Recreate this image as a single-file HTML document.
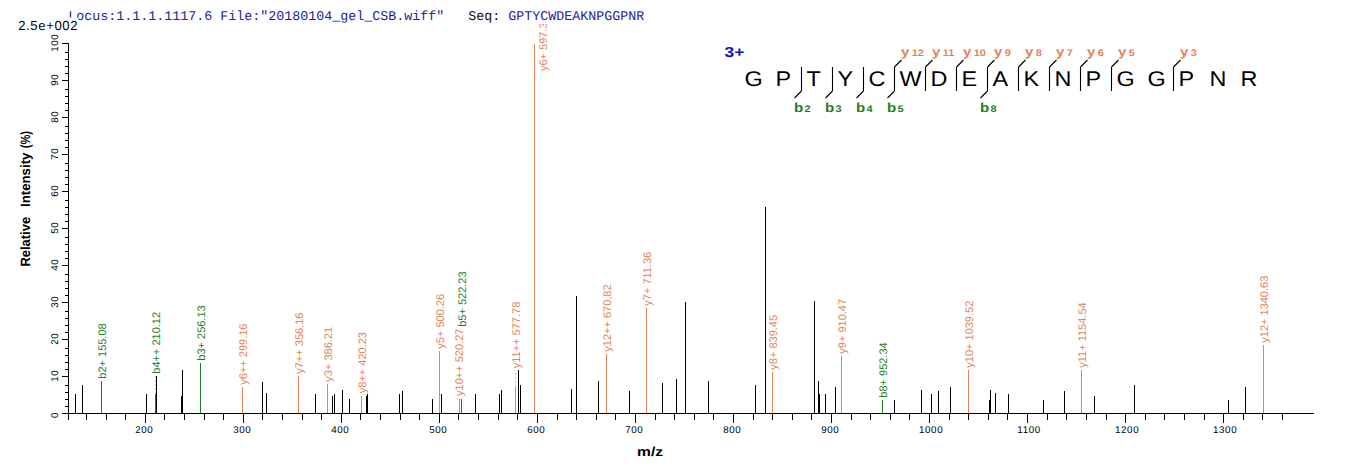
<!DOCTYPE html>
<html><head><meta charset="utf-8"><style>
html,body{margin:0;padding:0;background:#fff;}
svg{display:block;}
text{font-family:"Liberation Sans",sans-serif;text-rendering:geometricPrecision;}
.tk{font-size:9.8px;letter-spacing:0.6px;fill:#000;text-rendering:geometricPrecision;}
.pl{font-size:11px;}
.aa{font-size:21.3px;fill:#000;}
.ion{font-size:13px;font-weight:bold;}
.sub{font-size:9.5px;}
.chg{font-size:14.5px;font-weight:bold;fill:#1010cc;}
.hdr{font-family:"Liberation Mono",monospace;font-size:13.33px;stroke-width:0px;}
.scl{font-size:13.1px;letter-spacing:0.62px;fill:#000;}
.ttl2{font-size:13px;font-weight:bold;fill:#000;}
.ttl{font-size:13.5px;font-weight:bold;fill:#000;}
</style></head><body>
<svg width="1362" height="473" viewBox="0 0 1362 473">
<rect width="1362" height="473" fill="#fff"/>
<defs><clipPath id="clipTop"><rect x="0" y="24" width="1362" height="473"/></clipPath></defs>
<rect x="68" y="43" width="1" height="377" fill="#000"/>
<rect x="62" y="413" width="1252" height="1" fill="#000"/>
<rect x="62" y="413" width="6" height="1" fill="#000"/>
<rect x="65" y="406" width="3" height="1" fill="#000"/>
<rect x="65" y="399" width="3" height="1" fill="#000"/>
<rect x="65" y="392" width="3" height="1" fill="#000"/>
<rect x="65" y="385" width="3" height="1" fill="#000"/>
<rect x="62" y="376" width="6" height="1" fill="#000"/>
<rect x="65" y="369" width="3" height="1" fill="#000"/>
<rect x="65" y="362" width="3" height="1" fill="#000"/>
<rect x="65" y="355" width="3" height="1" fill="#000"/>
<rect x="65" y="348" width="3" height="1" fill="#000"/>
<rect x="62" y="339" width="6" height="1" fill="#000"/>
<rect x="65" y="332" width="3" height="1" fill="#000"/>
<rect x="65" y="325" width="3" height="1" fill="#000"/>
<rect x="65" y="318" width="3" height="1" fill="#000"/>
<rect x="65" y="311" width="3" height="1" fill="#000"/>
<rect x="62" y="302" width="6" height="1" fill="#000"/>
<rect x="65" y="295" width="3" height="1" fill="#000"/>
<rect x="65" y="288" width="3" height="1" fill="#000"/>
<rect x="65" y="281" width="3" height="1" fill="#000"/>
<rect x="65" y="274" width="3" height="1" fill="#000"/>
<rect x="62" y="265" width="6" height="1" fill="#000"/>
<rect x="65" y="258" width="3" height="1" fill="#000"/>
<rect x="65" y="251" width="3" height="1" fill="#000"/>
<rect x="65" y="244" width="3" height="1" fill="#000"/>
<rect x="65" y="237" width="3" height="1" fill="#000"/>
<rect x="62" y="228" width="6" height="1" fill="#000"/>
<rect x="65" y="221" width="3" height="1" fill="#000"/>
<rect x="65" y="214" width="3" height="1" fill="#000"/>
<rect x="65" y="207" width="3" height="1" fill="#000"/>
<rect x="65" y="200" width="3" height="1" fill="#000"/>
<rect x="62" y="191" width="6" height="1" fill="#000"/>
<rect x="65" y="184" width="3" height="1" fill="#000"/>
<rect x="65" y="177" width="3" height="1" fill="#000"/>
<rect x="65" y="170" width="3" height="1" fill="#000"/>
<rect x="65" y="163" width="3" height="1" fill="#000"/>
<rect x="62" y="154" width="6" height="1" fill="#000"/>
<rect x="65" y="147" width="3" height="1" fill="#000"/>
<rect x="65" y="140" width="3" height="1" fill="#000"/>
<rect x="65" y="133" width="3" height="1" fill="#000"/>
<rect x="65" y="126" width="3" height="1" fill="#000"/>
<rect x="62" y="117" width="6" height="1" fill="#000"/>
<rect x="65" y="110" width="3" height="1" fill="#000"/>
<rect x="65" y="103" width="3" height="1" fill="#000"/>
<rect x="65" y="96" width="3" height="1" fill="#000"/>
<rect x="65" y="89" width="3" height="1" fill="#000"/>
<rect x="62" y="80" width="6" height="1" fill="#000"/>
<rect x="65" y="73" width="3" height="1" fill="#000"/>
<rect x="65" y="66" width="3" height="1" fill="#000"/>
<rect x="65" y="59" width="3" height="1" fill="#000"/>
<rect x="65" y="52" width="3" height="1" fill="#000"/>
<rect x="62" y="43" width="6" height="1" fill="#000"/>
<text class="tk" transform="translate(57.6,414.9) rotate(-90)" text-anchor="middle">0</text>
<text class="tk" transform="translate(57.6,375.7) rotate(-90)" text-anchor="middle">10</text>
<text class="tk" transform="translate(57.6,338.7) rotate(-90)" text-anchor="middle">20</text>
<text class="tk" transform="translate(57.6,301.7) rotate(-90)" text-anchor="middle">30</text>
<text class="tk" transform="translate(57.6,264.7) rotate(-90)" text-anchor="middle">40</text>
<text class="tk" transform="translate(57.6,227.7) rotate(-90)" text-anchor="middle">50</text>
<text class="tk" transform="translate(57.6,190.7) rotate(-90)" text-anchor="middle">60</text>
<text class="tk" transform="translate(57.6,153.7) rotate(-90)" text-anchor="middle">70</text>
<text class="tk" transform="translate(57.6,116.7) rotate(-90)" text-anchor="middle">80</text>
<text class="tk" transform="translate(57.6,79.7) rotate(-90)" text-anchor="middle">90</text>
<text class="tk" transform="translate(57.6,42.7) rotate(-90)" text-anchor="middle">100</text>
<rect x="86" y="414" width="1" height="6" fill="#000"/>
<rect x="106" y="414" width="1" height="6" fill="#000"/>
<rect x="125" y="414" width="1" height="6" fill="#000"/>
<rect x="145" y="414" width="1" height="9" fill="#000"/>
<text class="tk" x="144.3" y="432.8" text-anchor="middle">200</text>
<rect x="164" y="414" width="1" height="6" fill="#000"/>
<rect x="184" y="414" width="1" height="6" fill="#000"/>
<rect x="204" y="414" width="1" height="6" fill="#000"/>
<rect x="223" y="414" width="1" height="6" fill="#000"/>
<rect x="243" y="414" width="1" height="9" fill="#000"/>
<text class="tk" x="242.3" y="432.8" text-anchor="middle">300</text>
<rect x="262" y="414" width="1" height="6" fill="#000"/>
<rect x="282" y="414" width="1" height="6" fill="#000"/>
<rect x="302" y="414" width="1" height="6" fill="#000"/>
<rect x="321" y="414" width="1" height="6" fill="#000"/>
<rect x="341" y="414" width="1" height="9" fill="#000"/>
<text class="tk" x="340.3" y="432.8" text-anchor="middle">400</text>
<rect x="360" y="414" width="1" height="6" fill="#000"/>
<rect x="380" y="414" width="1" height="6" fill="#000"/>
<rect x="400" y="414" width="1" height="6" fill="#000"/>
<rect x="419" y="414" width="1" height="6" fill="#000"/>
<rect x="439" y="414" width="1" height="9" fill="#000"/>
<text class="tk" x="438.3" y="432.8" text-anchor="middle">500</text>
<rect x="458" y="414" width="1" height="6" fill="#000"/>
<rect x="478" y="414" width="1" height="6" fill="#000"/>
<rect x="498" y="414" width="1" height="6" fill="#000"/>
<rect x="517" y="414" width="1" height="6" fill="#000"/>
<rect x="537" y="414" width="1" height="9" fill="#000"/>
<text class="tk" x="536.3" y="432.8" text-anchor="middle">600</text>
<rect x="557" y="414" width="1" height="6" fill="#000"/>
<rect x="576" y="414" width="1" height="6" fill="#000"/>
<rect x="596" y="414" width="1" height="6" fill="#000"/>
<rect x="615" y="414" width="1" height="6" fill="#000"/>
<rect x="635" y="414" width="1" height="9" fill="#000"/>
<text class="tk" x="634.3" y="432.8" text-anchor="middle">700</text>
<rect x="655" y="414" width="1" height="6" fill="#000"/>
<rect x="674" y="414" width="1" height="6" fill="#000"/>
<rect x="694" y="414" width="1" height="6" fill="#000"/>
<rect x="713" y="414" width="1" height="6" fill="#000"/>
<rect x="733" y="414" width="1" height="9" fill="#000"/>
<text class="tk" x="732.3" y="432.8" text-anchor="middle">800</text>
<rect x="753" y="414" width="1" height="6" fill="#000"/>
<rect x="772" y="414" width="1" height="6" fill="#000"/>
<rect x="792" y="414" width="1" height="6" fill="#000"/>
<rect x="811" y="414" width="1" height="6" fill="#000"/>
<rect x="831" y="414" width="1" height="9" fill="#000"/>
<text class="tk" x="830.3" y="432.8" text-anchor="middle">900</text>
<rect x="851" y="414" width="1" height="6" fill="#000"/>
<rect x="870" y="414" width="1" height="6" fill="#000"/>
<rect x="890" y="414" width="1" height="6" fill="#000"/>
<rect x="909" y="414" width="1" height="6" fill="#000"/>
<rect x="929" y="414" width="1" height="9" fill="#000"/>
<text class="tk" x="931.0999999999999" y="432.8" text-anchor="middle">1000</text>
<rect x="949" y="414" width="1" height="6" fill="#000"/>
<rect x="968" y="414" width="1" height="6" fill="#000"/>
<rect x="988" y="414" width="1" height="6" fill="#000"/>
<rect x="1007" y="414" width="1" height="6" fill="#000"/>
<rect x="1027" y="414" width="1" height="9" fill="#000"/>
<text class="tk" x="1029.1" y="432.8" text-anchor="middle">1100</text>
<rect x="1047" y="414" width="1" height="6" fill="#000"/>
<rect x="1066" y="414" width="1" height="6" fill="#000"/>
<rect x="1086" y="414" width="1" height="6" fill="#000"/>
<rect x="1106" y="414" width="1" height="6" fill="#000"/>
<rect x="1125" y="414" width="1" height="9" fill="#000"/>
<text class="tk" x="1127.1" y="432.8" text-anchor="middle">1200</text>
<rect x="1145" y="414" width="1" height="6" fill="#000"/>
<rect x="1164" y="414" width="1" height="6" fill="#000"/>
<rect x="1184" y="414" width="1" height="6" fill="#000"/>
<rect x="1204" y="414" width="1" height="6" fill="#000"/>
<rect x="1223" y="414" width="1" height="9" fill="#000"/>
<text class="tk" x="1225.1" y="432.8" text-anchor="middle">1300</text>
<rect x="1243" y="414" width="1" height="6" fill="#000"/>
<rect x="1262" y="414" width="1" height="6" fill="#000"/>
<rect x="1282" y="414" width="1" height="6" fill="#000"/>
<rect x="75" y="394" width="1" height="19" fill="#000"/>
<rect x="82" y="385" width="1" height="28" fill="#000"/>
<rect x="146" y="394" width="1" height="19" fill="#000"/>
<rect x="156" y="376" width="1" height="37" fill="#000"/>
<rect x="181" y="396" width="1" height="17" fill="#000"/>
<rect x="182" y="370" width="1" height="43" fill="#000"/>
<rect x="262" y="382" width="1" height="31" fill="#000"/>
<rect x="266" y="393" width="1" height="20" fill="#000"/>
<rect x="315" y="394" width="1" height="19" fill="#000"/>
<rect x="332" y="396" width="1" height="17" fill="#000"/>
<rect x="334" y="394" width="1" height="19" fill="#000"/>
<rect x="342" y="390" width="1" height="23" fill="#000"/>
<rect x="349" y="399" width="1" height="14" fill="#000"/>
<rect x="366" y="396" width="1" height="17" fill="#000"/>
<rect x="367" y="394" width="1" height="19" fill="#000"/>
<rect x="399" y="394" width="1" height="19" fill="#000"/>
<rect x="402" y="391" width="1" height="22" fill="#000"/>
<rect x="432" y="399" width="1" height="14" fill="#000"/>
<rect x="441" y="394" width="1" height="19" fill="#000"/>
<rect x="475" y="394" width="1" height="19" fill="#000"/>
<rect x="499" y="394" width="1" height="19" fill="#000"/>
<rect x="501" y="390" width="1" height="23" fill="#000"/>
<rect x="518" y="370" width="1" height="43" fill="#000"/>
<rect x="520" y="385" width="1" height="28" fill="#000"/>
<rect x="571" y="389" width="1" height="24" fill="#000"/>
<rect x="576" y="296" width="1" height="117" fill="#000"/>
<rect x="598" y="381" width="1" height="32" fill="#000"/>
<rect x="629" y="391" width="1" height="22" fill="#000"/>
<rect x="662" y="383" width="1" height="30" fill="#000"/>
<rect x="676" y="379" width="1" height="34" fill="#000"/>
<rect x="685" y="302" width="1" height="111" fill="#000"/>
<rect x="708" y="381" width="1" height="32" fill="#000"/>
<rect x="755" y="385" width="1" height="28" fill="#000"/>
<rect x="765" y="207" width="1" height="206" fill="#000"/>
<rect x="814" y="301" width="1" height="112" fill="#000"/>
<rect x="818" y="381" width="1" height="32" fill="#000"/>
<rect x="819" y="394" width="1" height="19" fill="#000"/>
<rect x="825" y="394" width="1" height="19" fill="#000"/>
<rect x="835" y="387" width="1" height="26" fill="#000"/>
<rect x="894" y="400" width="1" height="13" fill="#000"/>
<rect x="921" y="390" width="1" height="23" fill="#000"/>
<rect x="931" y="394" width="1" height="19" fill="#000"/>
<rect x="938" y="391" width="1" height="22" fill="#000"/>
<rect x="950" y="387" width="1" height="26" fill="#000"/>
<rect x="989" y="400" width="1" height="13" fill="#000"/>
<rect x="990" y="390" width="1" height="23" fill="#000"/>
<rect x="995" y="393" width="1" height="20" fill="#000"/>
<rect x="1008" y="394" width="1" height="19" fill="#000"/>
<rect x="1043" y="400" width="1" height="13" fill="#000"/>
<rect x="1064" y="391" width="1" height="22" fill="#000"/>
<rect x="1094" y="396" width="1" height="17" fill="#000"/>
<rect x="1134" y="385" width="1" height="28" fill="#000"/>
<rect x="1228" y="400" width="1" height="13" fill="#000"/>
<rect x="1245" y="387" width="1" height="26" fill="#000"/>
<rect x="101" y="381" width="1" height="32" fill="#1f7f1f"/>
<g clip-path="url(#clipTop)"><text class="pl" fill="#1f7f1f" transform="translate(106.2,378.7) rotate(-90)">b2+ 155.08</text></g>
<rect x="155" y="394" width="1" height="19" fill="#1f7f1f"/>
<g clip-path="url(#clipTop)"><text class="pl" fill="#1f7f1f" transform="translate(160.2,373.7) rotate(-90)">b4++ 210.12</text></g>
<line x1="155.5" y1="394" x2="155.5" y2="375.7" stroke="#c4c4c4" stroke-width="1" stroke-dasharray="2,2"/>
<rect x="200" y="363" width="1" height="50" fill="#1f7f1f"/>
<g clip-path="url(#clipTop)"><text class="pl" fill="#1f7f1f" transform="translate(205.2,360.7) rotate(-90)">b3+ 256.13</text></g>
<rect x="242" y="387" width="1" height="26" fill="#e2845a"/>
<g clip-path="url(#clipTop)"><text class="pl" fill="#e2845a" transform="translate(247.2,384.7) rotate(-90)">y6++ 299.16</text></g>
<rect x="298" y="376" width="1" height="37" fill="#e2845a"/>
<g clip-path="url(#clipTop)"><text class="pl" fill="#e2845a" transform="translate(303.2,373.7) rotate(-90)">y7++ 356.16</text></g>
<rect x="327" y="384" width="1" height="29" fill="#e2845a"/>
<g clip-path="url(#clipTop)"><text class="pl" fill="#e2845a" transform="translate(332.2,381.7) rotate(-90)">y3+ 386.21</text></g>
<rect x="361" y="396" width="1" height="17" fill="#e2845a"/>
<g clip-path="url(#clipTop)"><text class="pl" fill="#e2845a" transform="translate(366.2,393.2) rotate(-90)">y8++ 420.23</text></g>
<rect x="439" y="351" width="1" height="62" fill="#e2845a"/>
<g clip-path="url(#clipTop)"><text class="pl" fill="#e2845a" transform="translate(444.2,348.7) rotate(-90)">y5+ 500.26</text></g>
<rect x="459" y="399" width="1" height="14" fill="#e2845a"/>
<g clip-path="url(#clipTop)"><text class="pl" fill="#e2845a" transform="translate(463.2,395.9) rotate(-90)">y10++ 520.27</text></g>
<rect x="461" y="399" width="1" height="14" fill="#1f7f1f"/>
<g clip-path="url(#clipTop)"><text class="pl" fill="#1f7f1f" transform="translate(466.2,326.8) rotate(-90)">b5+ 522.23</text></g>
<rect x="515" y="387" width="1" height="26" fill="#e2845a"/>
<g clip-path="url(#clipTop)"><text class="pl" fill="#e2845a" transform="translate(520.2,368.2) rotate(-90)">y11++ 577.78</text></g>
<line x1="515.5" y1="387" x2="515.5" y2="370.2" stroke="#c4c4c4" stroke-width="1" stroke-dasharray="2,2"/>
<rect x="534" y="44" width="1" height="369" fill="#e2845a"/>
<g clip-path="url(#clipTop)"><text class="pl" fill="#e2845a" transform="translate(546.5,71) rotate(-90)">y6+ 597.3</text></g>
<rect x="606" y="354" width="1" height="59" fill="#e2845a"/>
<g clip-path="url(#clipTop)"><text class="pl" fill="#e2845a" transform="translate(611.2,351.7) rotate(-90)">y12++ 670.82</text></g>
<rect x="646" y="308" width="1" height="105" fill="#e2845a"/>
<g clip-path="url(#clipTop)"><text class="pl" fill="#e2845a" transform="translate(651.2,305.7) rotate(-90)">y7+ 711.36</text></g>
<rect x="772" y="372" width="1" height="41" fill="#e2845a"/>
<g clip-path="url(#clipTop)"><text class="pl" fill="#e2845a" transform="translate(777.2,369.7) rotate(-90)">y8+ 839.45</text></g>
<rect x="841" y="356" width="1" height="57" fill="#e2845a"/>
<g clip-path="url(#clipTop)"><text class="pl" fill="#e2845a" transform="translate(846.2,353.7) rotate(-90)">y9+ 910.47</text></g>
<rect x="882" y="400" width="1" height="13" fill="#1f7f1f"/>
<g clip-path="url(#clipTop)"><text class="pl" fill="#1f7f1f" transform="translate(887.2,397.7) rotate(-90)">b8+ 952.34</text></g>
<rect x="968" y="370" width="1" height="43" fill="#e2845a"/>
<g clip-path="url(#clipTop)"><text class="pl" fill="#e2845a" transform="translate(973.2,367.7) rotate(-90)">y10+ 1039.52</text></g>
<rect x="1081" y="370" width="1" height="43" fill="#e2845a"/>
<g clip-path="url(#clipTop)"><text class="pl" fill="#e2845a" transform="translate(1086.2,367.7) rotate(-90)">y11+ 1154.54</text></g>
<rect x="1263" y="345" width="1" height="68" fill="#e2845a"/>
<g clip-path="url(#clipTop)"><text class="pl" fill="#e2845a" transform="translate(1268.2,342.7) rotate(-90)">y12+ 1340.63</text></g>
<text class="aa" transform="translate(744.4,86) scale(1.1,1)">G</text>
<text class="aa" transform="translate(775.4,86) scale(1.1,1)">P</text>
<text class="aa" transform="translate(806.4,86) scale(1.1,1)">T</text>
<text class="aa" transform="translate(837.4,86) scale(1.1,1)">Y</text>
<text class="aa" transform="translate(868.4,86) scale(1.1,1)">C</text>
<text class="aa" transform="translate(899.4,86) scale(1.1,1)">W</text>
<text class="aa" transform="translate(930.4,86) scale(1.1,1)">D</text>
<text class="aa" transform="translate(961.4,86) scale(1.1,1)">E</text>
<text class="aa" transform="translate(992.4,86) scale(1.1,1)">A</text>
<text class="aa" transform="translate(1023.4,86) scale(1.1,1)">K</text>
<text class="aa" transform="translate(1054.4,86) scale(1.1,1)">N</text>
<text class="aa" transform="translate(1085.4,86) scale(1.1,1)">P</text>
<text class="aa" transform="translate(1116.4,86) scale(1.1,1)">G</text>
<text class="aa" transform="translate(1147.4,86) scale(1.1,1)">G</text>
<text class="aa" transform="translate(1178.4,86) scale(1.1,1)">P</text>
<text class="aa" transform="translate(1209.4,86) scale(1.1,1)">N</text>
<text class="aa" transform="translate(1240.4,86) scale(1.1,1)">R</text>
<path d="M801.5,67 L801.5,91 M801.5,91 L794.5,98" stroke="#000" stroke-width="1.1" fill="none"/>
<text class="ion" fill="#1f7f1f" transform="translate(794.0,111.5) scale(1.16,1)">b<tspan class="sub" dx="1">2</tspan></text>
<path d="M832.5,67 L832.5,91 M832.5,91 L825.5,98" stroke="#000" stroke-width="1.1" fill="none"/>
<text class="ion" fill="#1f7f1f" transform="translate(825.0,111.5) scale(1.16,1)">b<tspan class="sub" dx="1">3</tspan></text>
<path d="M863.5,67 L863.5,91 M863.5,91 L856.5,98" stroke="#000" stroke-width="1.1" fill="none"/>
<text class="ion" fill="#1f7f1f" transform="translate(856.0,111.5) scale(1.16,1)">b<tspan class="sub" dx="1">4</tspan></text>
<path d="M894.5,67 L894.5,91 M894.5,91 L887.5,98 M894.5,67 L901.5,60" stroke="#000" stroke-width="1.1" fill="none"/>
<text class="ion" fill="#1f7f1f" transform="translate(887.0,111.5) scale(1.16,1)">b<tspan class="sub" dx="1">5</tspan></text>
<text class="ion" fill="#e2845a" transform="translate(901.0,55.5) scale(1.16,1)">y<tspan class="sub" dx="2">12</tspan></text>
<path d="M925.5,67 L925.5,91 M925.5,67 L932.5,60" stroke="#000" stroke-width="1.1" fill="none"/>
<text class="ion" fill="#e2845a" transform="translate(932.0,55.5) scale(1.16,1)">y<tspan class="sub" dx="2">11</tspan></text>
<path d="M956.5,67 L956.5,91 M956.5,67 L963.5,60" stroke="#000" stroke-width="1.1" fill="none"/>
<text class="ion" fill="#e2845a" transform="translate(963.0,55.5) scale(1.16,1)">y<tspan class="sub" dx="2">10</tspan></text>
<path d="M987.5,67 L987.5,91 M987.5,91 L980.5,98 M987.5,67 L994.5,60" stroke="#000" stroke-width="1.1" fill="none"/>
<text class="ion" fill="#1f7f1f" transform="translate(980.0,111.5) scale(1.16,1)">b<tspan class="sub" dx="1">8</tspan></text>
<text class="ion" fill="#e2845a" transform="translate(994.0,55.5) scale(1.16,1)">y<tspan class="sub" dx="2">9</tspan></text>
<path d="M1018.5,67 L1018.5,91 M1018.5,67 L1025.5,60" stroke="#000" stroke-width="1.1" fill="none"/>
<text class="ion" fill="#e2845a" transform="translate(1025.0,55.5) scale(1.16,1)">y<tspan class="sub" dx="2">8</tspan></text>
<path d="M1049.5,67 L1049.5,91 M1049.5,67 L1056.5,60" stroke="#000" stroke-width="1.1" fill="none"/>
<text class="ion" fill="#e2845a" transform="translate(1056.0,55.5) scale(1.16,1)">y<tspan class="sub" dx="2">7</tspan></text>
<path d="M1080.5,67 L1080.5,91 M1080.5,67 L1087.5,60" stroke="#000" stroke-width="1.1" fill="none"/>
<text class="ion" fill="#e2845a" transform="translate(1087.0,55.5) scale(1.16,1)">y<tspan class="sub" dx="2">6</tspan></text>
<path d="M1111.5,67 L1111.5,91 M1111.5,67 L1118.5,60" stroke="#000" stroke-width="1.1" fill="none"/>
<text class="ion" fill="#e2845a" transform="translate(1118.0,55.5) scale(1.16,1)">y<tspan class="sub" dx="2">5</tspan></text>
<path d="M1173.5,67 L1173.5,91 M1173.5,67 L1180.5,60" stroke="#000" stroke-width="1.1" fill="none"/>
<text class="ion" fill="#e2845a" transform="translate(1180.0,55.5) scale(1.16,1)">y<tspan class="sub" dx="2">3</tspan></text>
<text class="chg" transform="translate(724.5,56.8) scale(1.2,1)">3+</text>
<text class="hdr" x="68.3" y="19.8" xml:space="preserve"><tspan fill="#24249a" stroke="#24249a">Locus:1.1.1.1117.6 File:"20180104_gel_CSB.wiff"</tspan><tspan fill="#111" stroke="#111">   Seq: </tspan><tspan fill="#24249a" stroke="#24249a">GPTYCWDEAKNPGGPNR</tspan></text>
<rect x="10" y="17.5" width="68.5" height="14" fill="#fff"/>
<text class="scl" x="18.2" y="29.9">2.5e+002</text>
<text class="ttl" transform="translate(29.7,266.6) rotate(-90) scale(0.96,1)">Relative</text>
<text class="ttl" transform="translate(29.7,207.0) rotate(-90) scale(0.98,1)">Intensity</text>
<text class="ttl" transform="translate(29.7,148.3) rotate(-90) scale(0.82,1)">(%)</text>
<text class="ttl2" transform="translate(650,455.9) scale(1.2,1)" text-anchor="middle">m/z</text>
</svg>
</body></html>
